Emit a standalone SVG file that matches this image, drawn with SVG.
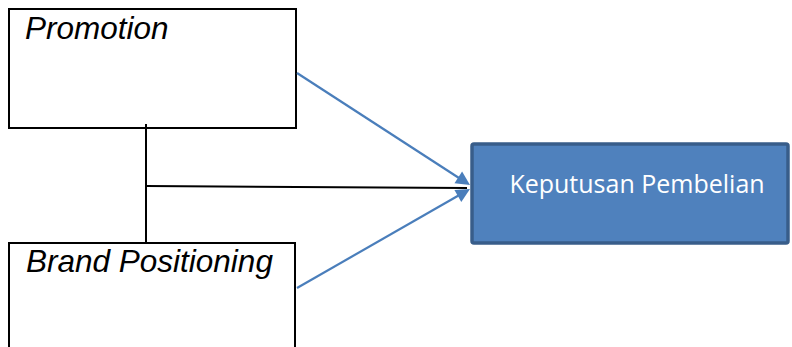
<svg xmlns="http://www.w3.org/2000/svg" width="792" height="347" viewBox="0 0 792 347">
<style>
.box{fill:#fff;stroke:#000;stroke-width:2}
.lbl{font-family:"Liberation Sans",Arial,sans-serif;font-style:italic;font-size:31.5px;fill:#000}
.blk{stroke:#000;stroke-width:2;fill:none}
.blu{stroke:#4A7EBB;stroke-width:2.2;fill:none}
.head{fill:#4A7EBB}
</style>
<rect width="792" height="347" fill="#fff"/>
<g id="promotion">
<rect class="box" x="9" y="9" width="287" height="119"/>
<text class="lbl" x="25" y="39">Promotion</text>
</g>
<g id="brand-positioning">
<rect class="box" x="9" y="243" width="286" height="120"/>
<text class="lbl" x="26" y="272">Brand Positioning</text>
</g>
<g id="keputusan-pembelian">
<rect x="472" y="144" width="316" height="99" rx="2" fill="#4F81BD" stroke="#385D8A" stroke-width="3.5"/>
<text x="637" y="193" text-anchor="middle" font-family="Open Sans,Noto Sans,sans-serif" font-size="25" fill="#fff">Keputusan Pembelian</text>
</g>
<g id="connectors">
<line class="blk" x1="146" y1="124" x2="146" y2="244"/>
<line class="blk" x1="146" y1="186" x2="467" y2="188"/>
<line class="blu" x1="297" y1="73" x2="459" y2="178"/>
<polygon class="head" points="470,185 454.5,183.3 462.1,171.5"/>
<line class="blu" x1="297" y1="288" x2="458.5" y2="195.5"/>
<polygon class="head" points="470,189 461.3,202 454.4,189.9"/>
</g>
</svg>
